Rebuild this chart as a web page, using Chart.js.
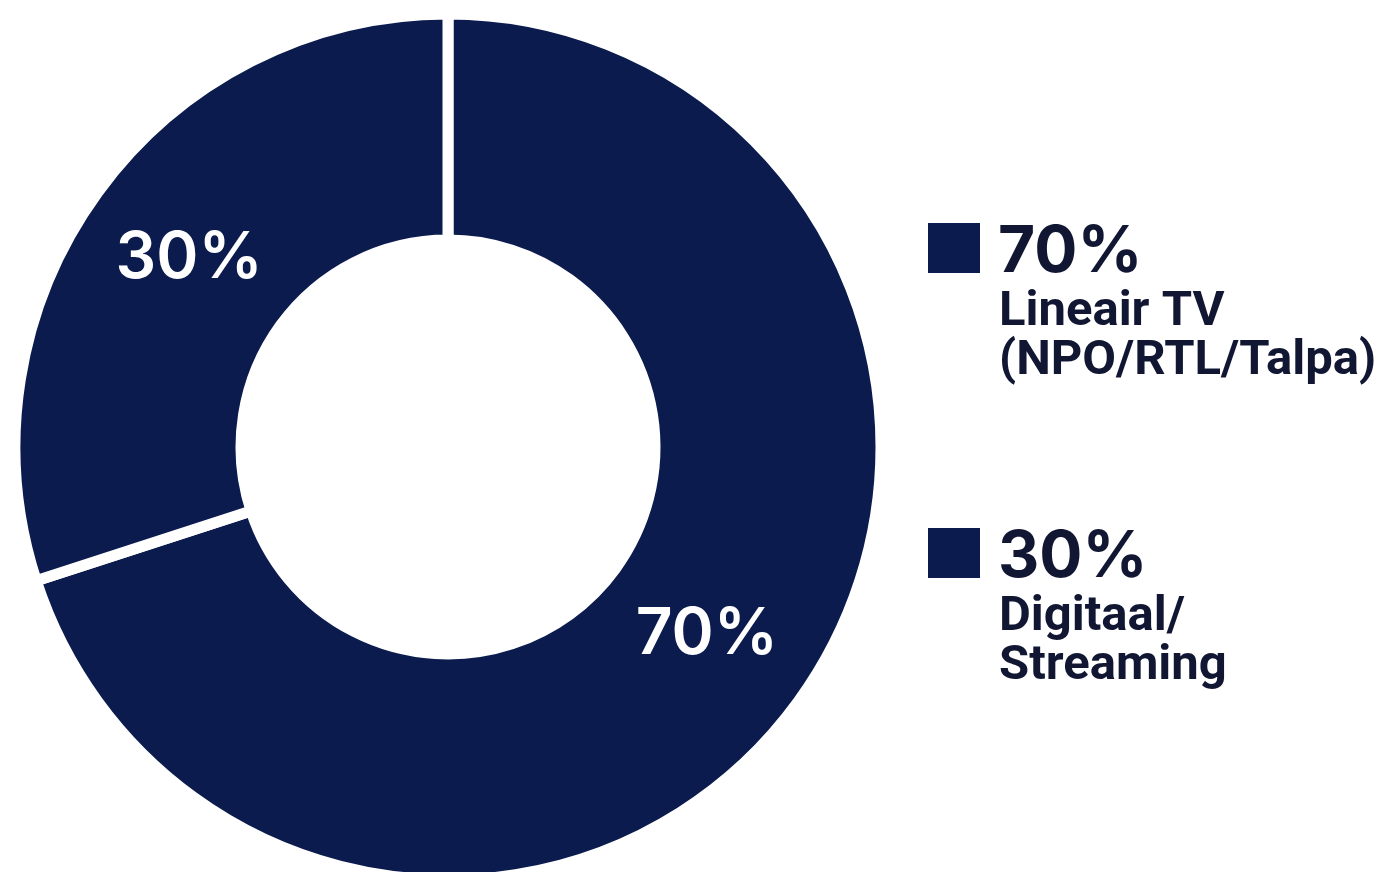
<!DOCTYPE html>
<html>
<head>
<meta charset="utf-8">
<script src="https://cdn.jsdelivr.net/npm/chart.js@4/dist/chart.umd.min.js"></script>
<style>
  html, body { margin: 0; padding: 0; background: #fff; overflow: hidden; }
  #wrap { width: 1392px; height: 872px; overflow: hidden; }
  canvas { display: block; }
</style>
</head>
<body>
<div id="wrap"><canvas id="shareChart" width="1392" height="900"></canvas></div>
<script>
const categories = ['Lineair TV (NPO/RTL/Talpa)', 'Digitaal/ Streaming'];
const legendLines = [['Lineair TV', '(NPO/RTL/Talpa)'], ['Digitaal/', 'Streaming']];
const shares = [70, 30];

const NAVY = '#0b1b4e';
const INK = '#111733';

// percentage labels inside the ring, at each arc's centroid
const sliceLabels = {
  id: 'sliceLabels',
  afterDatasetsDraw(chart) {
    const { ctx } = chart;
    const meta = chart.getDatasetMeta(0);
    ctx.save();
    ctx.fillStyle = '#ffffff';
    ctx.font = '600 64px Inter, Roboto, sans-serif';
    ctx.textAlign = 'center';
    ctx.textBaseline = 'middle';
    meta.data.forEach((arc, i) => {
      const pos = arc.tooltipPosition();
      ctx.fillText(`${shares[i]}%`, pos.x, pos.y);
    });
    ctx.restore();
  },
};

// legend on the right: square, big percentage, two-line label
const sideLegend = {
  id: 'sideLegend',
  afterDraw(chart) {
    const { ctx } = chart;
    const rowTops = [223, 528];
    ctx.save();
    shares.forEach((value, i) => {
      const top = rowTops[i];
      ctx.fillStyle = NAVY;
      ctx.fillRect(928, top, 52, 50);

      ctx.fillStyle = INK;
      ctx.textAlign = 'left';
      ctx.textBaseline = 'alphabetic';
      ctx.font = '700 64px Inter, Roboto, sans-serif';
      ctx.fillText(`${value}%`, 998, top + 49);

      ctx.font = '700 49px Roboto, Inter, sans-serif';
      legendLines[i].forEach((line, j) => {
        ctx.fillText(line, 999, top + 102 + j * 49);
      });
    });
    ctx.restore();
  },
};

new Chart(document.getElementById('shareChart'), {
  type: 'doughnut',
  data: {
    labels: categories,
    datasets: [{
      data: shares,
      backgroundColor: [NAVY, NAVY],
      borderColor: '#ffffff',
      borderWidth: 11,
      hoverOffset: 0,
    }],
  },
  options: {
    responsive: false,
    animation: false,
    radius: 433,
    cutout: '47.8%',
    layout: { padding: { right: 496, bottom: 6 } },
    plugins: {
      legend: { display: false },
      tooltip: { enabled: false },
    },
  },
  plugins: [sliceLabels, sideLegend],
});
</script>
</body>
</html>
